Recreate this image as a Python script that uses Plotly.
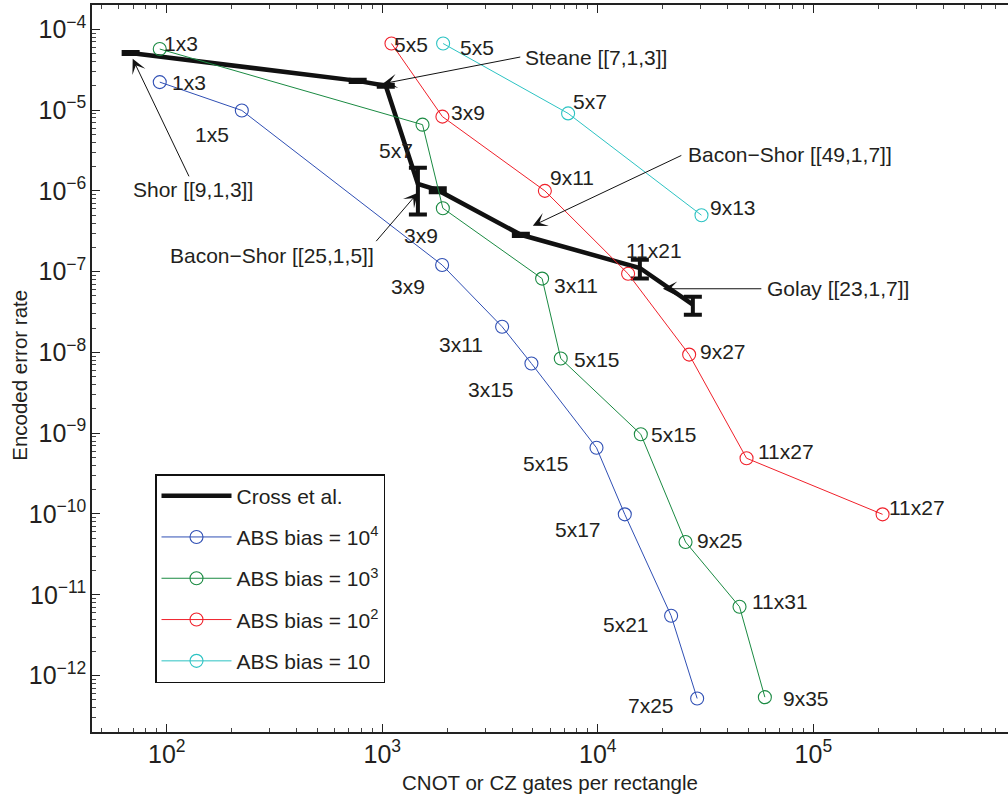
import numpy as np
import plotly.graph_objects as go

# ---- Cross et al. reference codes (gates per rectangle, encoded error rate, error) ----
cross_gates = [68, 769, 1038, 1463, 1809, 4395, 15670, 27600]
cross_rate = [5.1e-5, 2.3e-5, 2.0e-5, 1.22e-6, 1.02e-6, 2.86e-7, 1.11e-7, 3.9e-8]
cross_err = [1.5e-6, 7e-7, 6e-7, 7.1e-7, 6e-8, 9e-9, 2.9e-8, 9.8e-9]

# ---- ABS bias = 10^4 ----
b4_gates = [92.8, 223, 1895, 3597, 4920, 9860, 13340, 21880, 28900]
b4_rate = [2.22e-5, 9.9e-6, 1.21e-7, 2.08e-8, 7.3e-9, 6.6e-10, 9.9e-11, 5.5e-12, 5.2e-13]
b4_labels = ["1x3", "1x5", "3x9", "3x11", "3x15", "5x15", "5x17", "5x21", "7x25"]

# ---- ABS bias = 10^3 ----
b3_gates = [92.8, 1537, 1910, 5515, 6730, 15830, 25530, 45440, 59570]
b3_rate = [5.7e-5, 6.6e-6, 6.1e-7, 8.2e-8, 8.4e-9, 9.7e-10, 4.5e-11, 7.1e-12, 5.4e-13]
b3_labels = ["1x3", "5x7", "3x9", "3x11", "5x15", "5x15", "9x25", "11x31", "9x35"]

# ---- ABS bias = 10^2 ----
b2_gates = [1103, 1901, 5680, 13820, 26530, 48980, 209500]
b2_rate = [6.67e-5, 8.3e-6, 1.0e-6, 9.4e-8, 9.4e-9, 4.9e-10, 9.9e-11]
b2_labels = ["5x5", "3x9", "9x11", "11x21", "9x27", "11x27", "11x27"]

# ---- ABS bias = 10 ----
b1_gates = [1915, 7280, 30270]
b1_rate = [6.67e-5, 9.1e-6, 5.0e-7]
b1_labels = ["5x5", "5x7", "9x13"]

# Label placement per point: (anchor, x shift px, downward shift px)
b4_place = [("left", 10, 0), ("right", -11, 24), ("right", -15, 22), ("right", -17, 18),
            ("right", -15, 26), ("right", -26, 16), ("right", -22, 15), ("right", -20, 9),
            ("right", -21, 7)]
b3_place = [("left", 2, -6), ("right", -8, 26), ("right", -3, 27), ("left", 10, 7),
            ("left", 11, 1), ("left", 8, 0), ("left", 9, -2), ("left", 10, -5), ("left", 16, 1)]
b2_place = [("left", 1, 1), ("left", 7, -4), ("left", 3, -13), ("left", -4, -23),
            ("left", 9, -3), ("left", 9, -7), ("left", 4, -7)]
b1_place = [("left", 15, 4), ("left", 3, -12), ("left", 7, -8)]

# Code names with arrow tips (gates, rate) and text anchors (gates, rate)
code_names = ["Shor [[9,1,3]]", "Steane [[7,1,3]]", "Bacon−Shor [[49,1,7]]",
              "Bacon−Shor [[25,1,5]]", "Golay [[23,1,7]]"]
code_tip = [(69.5, 4.31e-5), (1005, 2.12e-5), (4994, 3.70e-7), (1463, 9.5e-7), (20030, 6.14e-8)]
code_text = [(133, 1.03e-6), (4487, 4.44e-5), (25610, 2.8e-6), (307, 1.57e-7), (59570, 6.14e-8)]
code_anchor = ["center", "left", "left", "center", "left"]
code_tail = [(57, 119), (139, -27), (150, -71), (-43, 50), (100, 0)]

BLUE = "#2f4fb4"
GREEN = "#1a8a42"
RED = "#f0202a"
CYAN = "#2cc3c3"
FONT = "Liberation Sans, Arial, Helvetica, sans-serif"
TXT = "#231f20"

fig = go.Figure()

fig.add_trace(go.Scatter(
    x=cross_gates, y=cross_rate, mode="lines", name="Cross et al.",
    line=dict(color="#111111", width=4.5),
    error_y=dict(type="data", array=cross_err, visible=True, color="#111111",
                 thickness=4, width=9),
    legendgroup="c",
))

series = [
    (b4_gates, b4_rate, BLUE, "ABS bias = 10<sup>4</sup>", "g4"),
    (b3_gates, b3_rate, GREEN, "ABS bias = 10<sup>3</sup>", "g3"),
    (b2_gates, b2_rate, RED, "ABS bias = 10<sup>2</sup>", "g2"),
    (b1_gates, b1_rate, CYAN, "ABS bias = 10", "g1"),
]
for gx, gy, col, name, grp in series:
    fig.add_trace(go.Scatter(
        x=gx, y=gy, mode="lines+markers", name=name,
        line=dict(color=col, width=1),
        marker=dict(symbol="circle-open", size=13, color=col, line=dict(width=1.1, color=col)),
        legendgroup=grp,
    ))

annotations = []
for gx, gy, labels, places in [(b4_gates, b4_rate, b4_labels, b4_place),
                               (b3_gates, b3_rate, b3_labels, b3_place),
                               (b2_gates, b2_rate, b2_labels, b2_place),
                               (b1_gates, b1_rate, b1_labels, b1_place)]:
    for xv, yv, lab, (anc, dx, dy) in zip(gx, gy, labels, places):
        annotations.append(dict(
            x=np.log10(xv), y=np.log10(yv), xref="x", yref="y", text=lab,
            showarrow=False, xanchor=anc, yanchor="middle", xshift=dx, yshift=-dy,
            font=dict(family=FONT, size=21, color=TXT),
        ))

for name, tip, txt, anc, tail in zip(code_names, code_tip, code_text, code_anchor, code_tail):
    annotations.append(dict(
        x=np.log10(tip[0]), y=np.log10(tip[1]), xref="x", yref="y", text="",
        showarrow=True, arrowhead=3, arrowsize=2.4, arrowwidth=1, arrowcolor="#111111",
        ax=tail[0], ay=tail[1],
    ))
    annotations.append(dict(
        x=np.log10(txt[0]), y=np.log10(txt[1]), xref="x", yref="y", text=name,
        showarrow=False, xanchor=anc, yanchor="middle",
        font=dict(family=FONT, size=21, color=TXT),
    ))

# Y-axis title drawn as a rotated annotation
annotations.append(dict(
    x=-0.0786, y=0.49, xref="paper", yref="paper", text="Encoded error rate",
    textangle=-90, showarrow=False, xanchor="center", yanchor="middle",
    font=dict(family=FONT, size=20.5, color=TXT),
))

axis_common = dict(
    type="log", dtick=1, exponentformat="power", showgrid=False, zeroline=False,
    ticks="inside", ticklen=8, tickwidth=1, tickcolor="#222",
    linecolor="#222", linewidth=1.5, showline=True,
    tickfont=dict(family=FONT, size=20, color=TXT),
    minor=dict(ticks="inside", ticklen=4, tickcolor="#444", showgrid=False),
)

fig.update_layout(
    width=1008, height=799,
    margin=dict(l=92, r=0, t=5, b=67),
    paper_bgcolor="white", plot_bgcolor="white",
    font=dict(family=FONT, size=20, color=TXT),
    xaxis=dict(axis_common, range=[np.log10(45), np.log10(8e5)], mirror="ticks",
               title=dict(text="CNOT or CZ gates per rectangle", standoff=9,
                          font=dict(family=FONT, size=20.5, color=TXT))),
    yaxis=dict(axis_common, range=[np.log10(2e-13), np.log10(2e-4)]),
    legend=dict(
        x=(155 - 92) / 916, y=(732 - 474) / 727, xanchor="left", yanchor="top",
        bgcolor="white", bordercolor="#111", borderwidth=1.5,
        font=dict(family=FONT, size=21, color=TXT),
        tracegroupgap=11, itemwidth=70,
    ),
    annotations=annotations,
    showlegend=True,
)

fig.write_html("out.html")
